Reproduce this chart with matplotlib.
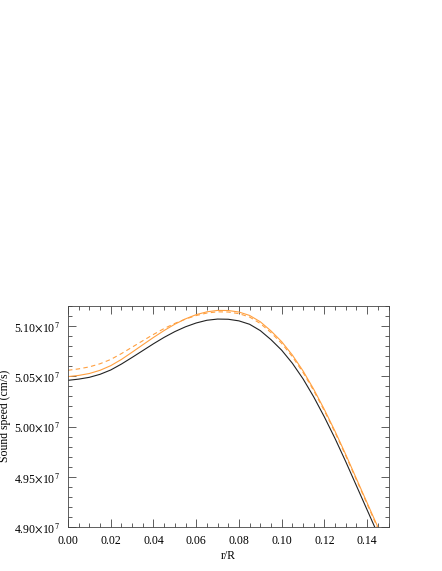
import matplotlib
matplotlib.use("Agg")
import matplotlib.pyplot as plt
from matplotlib.ticker import MultipleLocator, FuncFormatter

plt.rcParams['font.family'] = ['Liberation Serif', 'DejaVu Serif']
plt.rcParams['mathtext.fontset'] = 'stix'

# radius in r/R and sound speed in units of 1e7 cm/s
r = [0.000, 0.005, 0.010, 0.015, 0.020, 0.025, 0.030, 0.035, 0.040, 0.045,
     0.050, 0.055, 0.060, 0.065, 0.070, 0.075, 0.080, 0.085, 0.090, 0.095,
     0.100, 0.105, 0.110, 0.115, 0.120, 0.125, 0.130, 0.135, 0.140, 0.145]

c_black = [5.0460, 5.0472, 5.0490, 5.0520, 5.0563, 5.0622, 5.0688, 5.0756, 5.0824, 5.0888,
           5.0945, 5.0993, 5.1031, 5.1058, 5.1070, 5.1068, 5.1052, 5.1018, 5.0955, 5.0865,
           5.0760, 5.0630, 5.0475, 5.0295, 5.0095, 4.9880, 4.9650, 4.9410, 4.9170, 4.8930]

c_orange = [5.0497, 5.0509, 5.0528, 5.0560, 5.0606, 5.0668, 5.0740, 5.0814, 5.0887, 5.0956,
            5.1019, 5.1072, 5.1114, 5.1142, 5.1156, 5.1155, 5.1140, 5.1106, 5.1043, 5.0952,
            5.0845, 5.0712, 5.0554, 5.0371, 5.0169, 4.9952, 4.9721, 4.9480, 4.9240, 4.9000]

c_dashed = [5.0560, 5.0574, 5.0594, 5.0625, 5.0668, 5.0726, 5.0790, 5.0854, 5.0917, 5.0976,
            5.1027, 5.1070, 5.1105, 5.1130, 5.1142, 5.1140, 5.1124, 5.1090, 5.1026, 5.0935,
            5.0828, 5.0696, 5.0539, 5.0357, 5.0156, 4.9940, 4.9709, 4.9468, 4.9228, 4.8988]

scale = 1e7
orange = '#ffa040'

fig = plt.figure(figsize=(4.42, 5.71), dpi=100)
ax = fig.add_axes([68/442, 44/571, 320.5/442, 221/571])

ax.plot(r, [v*scale for v in c_black], color='#222222', lw=0.8)
ax.plot(r, [v*scale for v in c_orange], color=orange, lw=0.8)
ax.plot(r, [v*scale for v in c_dashed], color=orange, lw=0.8, ls=(0, (4, 3)))

ax.set_xlim(0, 0.15)
ax.set_ylim(4.90e7, 5.12e7)

ax.xaxis.set_major_locator(MultipleLocator(0.02))
ax.xaxis.set_minor_locator(MultipleLocator(0.005))
ax.yaxis.set_major_locator(MultipleLocator(0.05e7))
ax.yaxis.set_minor_locator(MultipleLocator(0.01e7))
ax.xaxis.set_major_formatter(FuncFormatter(lambda v, p: f"{v:.2f}"))
ax.yaxis.set_major_formatter(FuncFormatter(
    lambda v, p: f"{v/scale:.2f}" + r"$\times$10$^{7}$"))

ax.tick_params(which='both', direction='in', top=True, right=True,
               width=0.6, color='#444444', labelsize=8.5)
ax.tick_params(which='major', length=6, pad=6)
ax.tick_params(which='minor', length=3)
for s in ax.spines.values():
    s.set_linewidth(0.6)
    s.set_color('#444444')

ax.set_xlabel('r/R', fontsize=8.5, labelpad=2)
# y label sits at the very left edge of the figure
fig.text(5.5/442, 1 - 416/571, 'Sound speed (cm/s)', rotation=90,
         ha='center', va='center', fontsize=8.5)

fig.savefig('out.png', dpi=100)
